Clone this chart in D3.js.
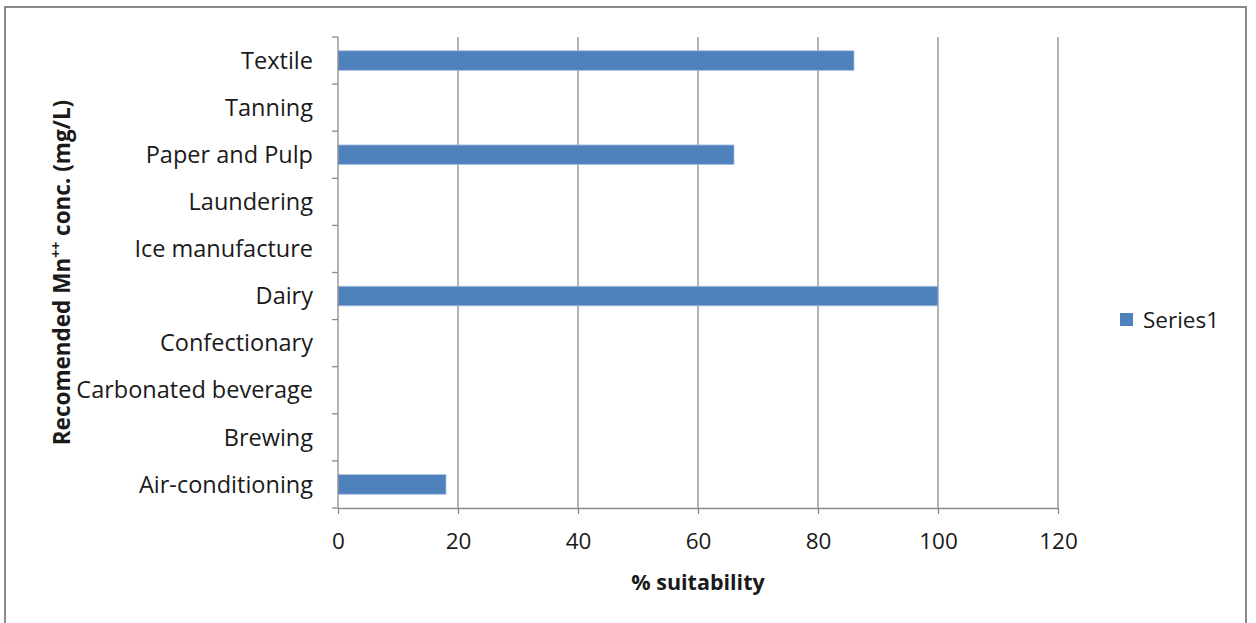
<!DOCTYPE html>
<html>
<head>
<meta charset="utf-8">
<script src="https://cdn.jsdelivr.net/npm/d3@7"></script>
<style>
  html, body { margin: 0; padding: 0; background: #fff; }
  svg { display: block; }
  text { font-family: "Open Sans", Lato, sans-serif; fill: #1a1a1a; }
</style>
</head>
<body>
<svg id="chart" width="1256" height="623"></svg>
<script>
// Industries, listed bottom-to-top as on the axis
const categories = [
  "Air-conditioning", "Brewing", "Carbonated beverage", "Confectionary",
  "Dairy", "Ice manufacture", "Laundering", "Paper and Pulp", "Tanning", "Textile"
];
// % suitability (Series1); null where no bar is drawn
const series1 = [18, null, null, null, 100, null, null, 66, null, 86];
const xTicks = [0, 20, 40, 60, 80, 100, 120];
const seriesName = "Series1";

const svg = d3.select("#chart");
const plot = { left: 338, right: 1058, top: 37, bottom: 508 };
const FONT = "'Open Sans', Lato, sans-serif";

// outer chart frame
svg.append("rect")
  .attr("x", 5).attr("y", 7).attr("width", 1241).attr("height", 640)
  .attr("fill", "#fff").attr("stroke", "#8a8a8a").attr("stroke-width", 2);

const x = d3.scaleLinear().domain([0, 120]).range([plot.left, plot.right]);
const yEdge = d3.scaleBand().domain(categories.slice().reverse())
  .range([plot.top, plot.bottom]);

// vertical gridlines
svg.append("g").selectAll("line")
  .data(xTicks.filter(t => t > 0))
  .join("line")
  .attr("x1", d => x(d)).attr("x2", d => x(d))
  .attr("y1", plot.top).attr("y2", plot.bottom)
  .attr("stroke", "#8c8c8c").attr("stroke-width", 1.3);

// bars
const data = categories.map((c, i) => ({ c, v: series1[i] })).filter(d => d.v != null);
svg.append("g").selectAll("rect")
  .data(data)
  .join("rect")
  .attr("x", x(0))
  .attr("y", d => yEdge(d.c) + yEdge.bandwidth() / 2 - 9.8)
  .attr("width", d => x(d.v) - x(0))
  .attr("height", 19.6)
  .attr("fill", "#4f81bd")
  .attr("stroke", "#a9c1e4").attr("stroke-width", 0.8);

// x axis
const xAxis = d3.axisBottom(x).tickValues(xTicks).tickSize(6).tickSizeOuter(0).tickPadding(19);
const gx = svg.append("g").attr("transform", `translate(0,${plot.bottom})`).call(xAxis);
gx.select(".domain").attr("stroke", "#8c8c8c").attr("stroke-width", 1.3);
gx.selectAll(".tick line").attr("stroke", "#8c8c8c").attr("stroke-width", 1.3);
gx.selectAll(".tick text").style("font-size", "22.5px").attr("fill", "#1a1a1a")
  .style("font-family", FONT);

// y axis: ticks at category boundaries, labels centred in bands
const gy = svg.append("g");
gy.append("line")
  .attr("x1", plot.left).attr("x2", plot.left)
  .attr("y1", plot.top).attr("y2", plot.bottom)
  .attr("stroke", "#8c8c8c").attr("stroke-width", 1.3);
const edges = categories.map(c => yEdge(c)).concat([plot.bottom]);
gy.selectAll("line.tk").data(edges).join("line").attr("class", "tk")
  .attr("x1", plot.left - 6).attr("x2", plot.left)
  .attr("y1", d => d).attr("y2", d => d)
  .attr("stroke", "#8c8c8c").attr("stroke-width", 1.3);
gy.selectAll("text").data(categories).join("text")
  .attr("x", plot.left - 25)
  .attr("y", d => yEdge(d) + yEdge.bandwidth() / 2)
  .attr("dy", "0.35em")
  .attr("text-anchor", "end")
  .style("font-size", "23.5px")
  .text(d => d);

// axis titles
svg.append("text")
  .attr("x", (plot.left + plot.right) / 2).attr("y", 590)
  .attr("text-anchor", "middle")
  .style("font-size", "21.5px").style("font-weight", "bold")
  .text("% suitability");

const yt = svg.append("text")
  .attr("transform", `translate(70,${(plot.top + plot.bottom) / 2}) rotate(-90)`)
  .attr("text-anchor", "middle")
  .style("font-size", "22.5px").style("font-weight", "bold");
yt.append("tspan").text("Recomended Mn");
yt.append("tspan").attr("dy", -9).style("font-size", "14px").text("++");
yt.append("tspan").attr("dy", 9).text(" conc. (mg/L)");

// legend
const lg = svg.append("g").attr("transform", "translate(1120,313)");
lg.append("rect").attr("width", 13).attr("height", 13).attr("fill", "#4f81bd");
lg.append("text").attr("x", 23).attr("y", 7).attr("dy", "0.35em")
  .style("font-size", "22.5px").text(seriesName);
</script>
</body>
</html>
